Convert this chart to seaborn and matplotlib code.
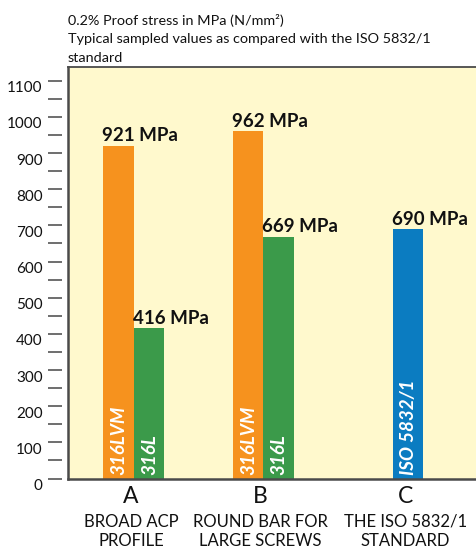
import matplotlib
matplotlib.use("Agg")
import matplotlib.pyplot as plt
import matplotlib.transforms as mtransforms
import seaborn as sns
import pandas as pd
import numpy as np

# ---- data ----
group_letters = ["A", "B", "C"]
group_descriptions = ["BROAD ACP\nPROFILE", "ROUND BAR FOR\nLARGE SCREWS", "THE ISO 5832/1\nSTANDARD"]
bar_groups = ["A", "A", "B", "B", "C"]
materials = ["316LVM", "316L", "316LVM", "316L", "ISO 5832/1"]
proof_stress = [921, 416, 962, 669, 690]
value_labels = ["921 MPa", "416 MPa", "962 MPa", "669 MPa", "690 MPa"]
y_ticks = list(range(0, 1101, 100))
subtitle_lines = ["0.2% Proof stress in MPa (N/mm²)",
                  "Typical sampled values as compared with the ISO 5832/1",
                  "standard"]

# ---- style ----
sns.set_theme(style="white")
plt.rcParams["font.family"] = ["Lato", "DejaVu Sans"]
palette = {"316LVM": "#F6921E", "316L": "#3B9A4A", "ISO 5832/1": "#0B7CC1"}
bg = "#FFF9CD"
frame_col = "#4a4a4a"

df = pd.DataFrame({"group": bar_groups, "material": materials,
                   "stress": proof_stress, "label": value_labels})

W, H = 476, 550
fig = plt.figure(figsize=(W / 100, H / 100), dpi=100)
ax_left, ax_right, ax_top, ax_bottom = 68, 482, 66.7, 478.5
ax = fig.add_axes([ax_left / W, (H - ax_bottom) / H,
                   (ax_right - ax_left) / W, (ax_bottom - ax_top) / H])
ax.set_facecolor(bg)

pair = df[df["group"].isin(["A", "B"])]
single = df[df["group"] == "C"]
sns.barplot(data=pair, x="group", y="stress", hue="material",
            order=group_letters, hue_order=["316LVM", "316L"],
            palette=palette, saturation=1, width=0.472, dodge=True,
            errorbar=None, linewidth=0, legend=False, ax=ax)
sns.barplot(data=single, x="group", y="stress", hue="material",
            order=group_letters, hue_order=["316LVM", "ISO 5832/1"],
            palette=palette, saturation=1, width=0.472, dodge=True,
            errorbar=None, linewidth=0, legend=False, ax=ax)

ax.set_xlim(-0.506, 2.69)
ax.set_ylim(0, 1139)
ax.set_xlabel("")
ax.set_ylabel("")
ax.set_xticks([])

# annotate bars
patches = [p for p in ax.patches if p.get_height() > 0]
for p in patches:
    h = p.get_height()
    x0 = p.get_x()
    cx = x0 + p.get_width() / 2
    row = df[(df["stress"] == round(h))].iloc[0]
    ax.annotate(row["label"], xy=(x0, h), xytext=(-0.5, 3.0),
                textcoords="offset points", ha="left", va="baseline",
                fontsize=13.5, fontweight="bold", color="#111111",
                annotation_clip=False)
    ax.annotate(row["material"], xy=(cx, 0), xytext=(0.6, 2.5),
                textcoords="offset points", ha="center", va="bottom",
                rotation=90, fontsize=13.5, fontweight="bold",
                fontstyle="italic", color="white",
                family=["Liberation Sans Narrow", "Lato", "DejaVu Sans"])

# group labels beneath
centers = {}
for p in patches:
    cx = p.get_x() + p.get_width() / 2
    centers.setdefault(int(round(cx)), []).append(cx)
trans = mtransforms.blended_transform_factory(ax.transData, ax.transAxes)
for i, (letter, desc) in enumerate(zip(group_letters, group_descriptions)):
    cx = np.mean(centers[i]) - 0.02
    ax.annotate(letter, xy=(cx, 0), xycoords=trans, xytext=(0, -13.2),
                textcoords="offset points", ha="center", va="center",
                fontsize=16.5, color="#111111", annotation_clip=False)
    ax.annotate(desc, xy=(cx, 0), xycoords=trans, xytext=(0, -38.0),
                textcoords="offset points", ha="center", va="center",
                fontsize=12, color="#111111", linespacing=1.2,
                annotation_clip=False)

# y axis: ticks detached from the frame
ax.set_yticks(y_ticks)
ax.set_yticks([t + 50 for t in y_ticks[:-1]], minor=True)
ax.tick_params(axis="y", which="both", direction="out", length=10.2,
               width=1.2, color="#555555", left=True, pad=3.6,
               labelsize=11, labelcolor="#111111")
ax.spines["left"].set_position(("outward", 4.4))
ax.spines["left"].set_visible(False)
ax.spines["right"].set_visible(False)
for s in ["top", "bottom"]:
    ax.spines[s].set_color(frame_col)
ax.spines["top"].set_linewidth(1.3)
ax.spines["bottom"].set_linewidth(1.8)
ax.plot([0, 0], [0, 1], transform=ax.transAxes, color=frame_col,
        lw=1.8, clip_on=False, solid_capstyle="projecting")
shift = mtransforms.ScaledTranslation(0, -6 / 100, fig.dpi_scale_trans)
for lab in ax.get_yticklabels():
    lab.set_transform(lab.get_transform() + shift)

# subtitle
for k, line in enumerate(subtitle_lines):
    fig.text(ax_left / W, 1 - (20.5 + 18.5 * k) / H, line, ha="left",
             va="center", fontsize=10.4, color="#111111")

fig.savefig("out.png", dpi=100, facecolor="white")
